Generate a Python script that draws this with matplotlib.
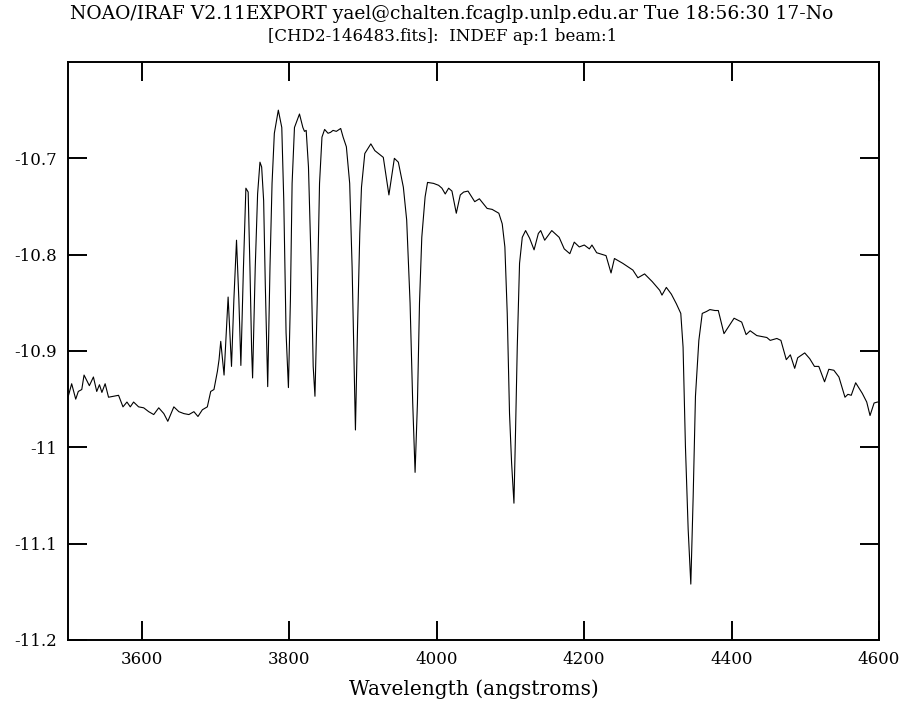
import numpy as np
import matplotlib.pyplot as plt

plt.rcParams['font.family'] = ['DejaVu Serif']

# spectrum (wavelength in angstroms, log flux)
wave = [3500.4, 3505.0, 3510.5, 3514.0, 3518.7, 3521.8, 3529.0, 3534.5, 3539.0, 3542.7,
        3546.0, 3550.4, 3555.0, 3561.8, 3568.6, 3574.6, 3580.0, 3584.5, 3589.0, 3595.8,
        3602.7, 3609.5, 3616.3, 3623.1, 3630.0, 3635.4, 3643.6, 3650.4, 3657.2, 3664.0,
        3670.8, 3676.3, 3682.3, 3689.0, 3693.6, 3698.0, 3702.7, 3704.9, 3707.2, 3711.7,
        3717.2, 3721.8, 3725.0, 3728.6, 3731.8, 3734.5, 3737.9, 3741.3, 3744.4, 3746.8,
        3749.1, 3750.4, 3754.0, 3757.2, 3760.4, 3762.7, 3765.4, 3767.6, 3770.9, 3774.0,
        3776.8, 3779.9, 3785.3, 3790.0, 3792.7, 3795.8, 3799.0, 3801.7, 3804.0, 3807.2,
        3814.0, 3818.6, 3820.8, 3823.1, 3826.2, 3829.9, 3832.6, 3835.0, 3838.1, 3841.2,
        3844.5, 3848.1, 3852.7, 3856.2, 3859.5, 3864.0, 3869.9, 3873.2, 3877.6, 3882.1,
        3885.4, 3888.1, 3889.9, 3892.6, 3895.8, 3898.1, 3902.6, 3910.8, 3916.2, 3927.7,
        3935.3, 3942.7, 3948.1, 3954.9, 3959.4, 3964.0, 3967.6, 3970.8, 3974.0, 3976.8,
        3979.9, 3984.4, 3987.7, 3995.8, 4002.7, 4007.2, 4011.7, 4016.3, 4020.8, 4026.7,
        4032.1, 4036.7, 4042.6, 4051.7, 4058.0, 4068.5, 4075.3, 4084.4, 4089.0, 4092.6,
        4095.8, 4098.9, 4101.7, 4104.9, 4107.1, 4109.4, 4112.5, 4116.2, 4120.7, 4126.2,
        4132.2, 4138.0, 4141.2, 4146.6, 4156.2, 4166.2, 4173.1, 4180.7, 4186.7, 4193.5,
        4200.3, 4207.2, 4210.7, 4217.1, 4229.8, 4236.6, 4241.2, 4252.5, 4266.2, 4273.0,
        4282.1, 4292.5, 4302.6, 4305.7, 4311.6, 4318.4, 4325.2, 4331.2, 4334.3, 4337.5,
        4341.2, 4344.8, 4348.0, 4351.1, 4355.7, 4360.3, 4366.1, 4370.7, 4377.6, 4382.1,
        4389.8, 4403.5, 4413.8, 4419.8, 4425.3, 4434.3, 4447.9, 4452.5, 4461.5, 4467.0,
        4474.3, 4479.8, 4485.7, 4489.8, 4499.3, 4506.1, 4512.5, 4518.4, 4526.2, 4532.0,
        4538.8, 4545.7, 4553.9, 4557.9, 4562.4, 4568.4, 4577.4, 4583.4, 4587.9, 4593.4,
        4597.9, 4600.0]
flux = [-10.947, -10.934, -10.950, -10.942, -10.940, -10.925, -10.936, -10.927, -10.942, -10.935,
        -10.943, -10.934, -10.948, -10.947, -10.946, -10.958, -10.953, -10.958, -10.953, -10.958,
        -10.959, -10.963, -10.966, -10.959, -10.965, -10.973, -10.958, -10.963, -10.965, -10.966,
        -10.963, -10.968, -10.961, -10.958, -10.942, -10.940, -10.921, -10.909, -10.890, -10.925,
        -10.844, -10.916, -10.847, -10.785, -10.847, -10.915, -10.816, -10.731, -10.735, -10.813,
        -10.899, -10.928, -10.813, -10.737, -10.704, -10.709, -10.744, -10.830, -10.937, -10.813,
        -10.726, -10.674, -10.650, -10.668, -10.744, -10.881, -10.938, -10.847, -10.726, -10.668,
        -10.654, -10.668, -10.672, -10.671, -10.709, -10.813, -10.916, -10.947, -10.847, -10.726,
        -10.678, -10.670, -10.674, -10.673, -10.671, -10.672, -10.669, -10.678, -10.688, -10.726,
        -10.813, -10.916, -10.982, -10.881, -10.778, -10.730, -10.695, -10.685, -10.692, -10.699,
        -10.738, -10.700, -10.704, -10.730, -10.764, -10.850, -10.954, -11.026, -10.954, -10.850,
        -10.782, -10.740, -10.725, -10.726, -10.728, -10.731, -10.737, -10.731, -10.734, -10.757,
        -10.738, -10.735, -10.734, -10.745, -10.742, -10.752, -10.753, -10.757, -10.768, -10.792,
        -10.861, -10.965, -11.016, -11.058, -10.982, -10.896, -10.809, -10.782, -10.775, -10.783,
        -10.795, -10.778, -10.775, -10.785, -10.775, -10.782, -10.794, -10.799, -10.787, -10.792,
        -10.790, -10.794, -10.790, -10.798, -10.801, -10.819, -10.804, -10.809, -10.816, -10.824,
        -10.820, -10.828, -10.837, -10.842, -10.834, -10.841, -10.851, -10.861, -10.896, -10.999,
        -11.085, -11.142, -11.051, -10.947, -10.889, -10.861, -10.859, -10.857, -10.858, -10.858,
        -10.882, -10.866, -10.870, -10.883, -10.879, -10.884, -10.886, -10.889, -10.887, -10.889,
        -10.909, -10.904, -10.918, -10.907, -10.902, -10.908, -10.916, -10.916, -10.932, -10.919,
        -10.920, -10.927, -10.948, -10.945, -10.946, -10.933, -10.944, -10.953, -10.967, -10.954,
        -10.953, -10.953]

xticks = [3600, 3800, 4000, 4200, 4400, 4600]
yticks = [-10.7, -10.8, -10.9, -11, -11.1, -11.2]
ytick_labels = ['-10.7', '-10.8', '-10.9', '-11', '-11.1', '-11.2']

fig = plt.figure(figsize=(9.04, 7.11), dpi=100)
ax = fig.add_axes([0.0752, 0.0999, 0.8971, 0.8129])

ax.plot(wave, flux, color='black', linewidth=0.8)

ax.set_xlim(3500, 4600)
ax.set_ylim(-11.2, -10.6)
ax.set_xticks(xticks)
ax.set_yticks(yticks)
ax.set_yticklabels(ytick_labels)
ax.tick_params(direction='in', length=14, width=1.4, top=True, right=True,
               labelsize=12, pad=8)
for s in ax.spines.values():
    s.set_linewidth(1.4)

ax.set_xlabel('Wavelength (angstroms)', fontsize=14.5, labelpad=8)

fig.text(0.5, 0.98, 'NOAO/IRAF V2.11EXPORT yael@chalten.fcaglp.unlp.edu.ar Tue 18:56:30 17-No',
         ha='center', va='center', fontsize=13.5)
fig.text(0.49, 0.949, '[CHD2-146483.fits]:  INDEF ap:1 beam:1',
         ha='center', va='center', fontsize=12)

fig.savefig('out.png', dpi=100)
